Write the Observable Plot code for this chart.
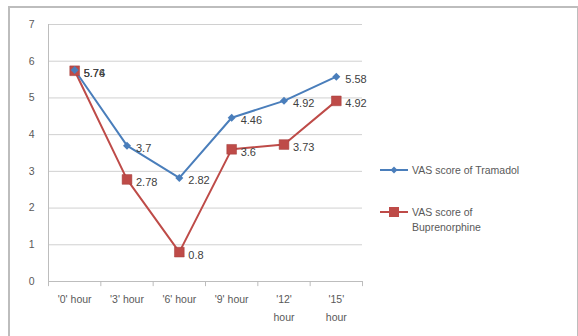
<!DOCTYPE html>
<html><head><meta charset="utf-8">
<script src="https://cdn.jsdelivr.net/npm/d3@7"></script>
<script src="https://cdn.jsdelivr.net/npm/@observablehq/plot@0.6"></script>
<style>
body{margin:0;background:#fff;font-family:"Liberation Sans",Arial,sans-serif;}
#wrap{position:relative;width:578px;height:336px;overflow:hidden;}
#frame{position:absolute;left:8px;top:6px;width:567px;height:340px;border:2px solid #bdbdbd;border-bottom:none;}
#legend{position:absolute;left:380px;top:163px;font-size:10.5px;color:#595959;}
.li{display:flex;align-items:flex-start;margin-bottom:27px;}
.li svg{flex:none;margin-top:-1px;}
.li span{margin-left:4px;line-height:15px;}
</style></head>
<body><div id="wrap"><div id="frame"></div><div id="chart"></div>
<div id="legend"></div></div>
<script>
const categories = ["'0' hour","'3' hour","'6' hour","'9' hour","'12'\nhour","'15'\nhour"];
const tramadol = [5.76, 3.7, 2.82, 4.46, 4.92, 5.58];
const buprenorphine = [5.74, 2.78, 0.8, 3.6, 3.73, 4.92];
const yTicks = [0,1,2,3,4,5,6,7];
const seriesNames = ["VAS score of Tramadol","VAS score of Buprenorphine"];
const colors = ["#4A7EBB","#BE4B48"];

const idx = categories.map((_, i) => i);
const tData = idx.map(i => ({x: i, y: tramadol[i], label: String(tramadol[i])}));
const bData = idx.map(i => ({x: i, y: buprenorphine[i], label: String(buprenorphine[i])}));
const bounds = d3.range(categories.length + 1).map(i => i - 0.5);

const gray = "#595959";
const chart = Plot.plot({
  width: 578, height: 336,
  marginLeft: 48, marginRight: 216, marginTop: 24, marginBottom: 55,
  style: {fontFamily: "Liberation Sans, Arial, sans-serif", fontSize: "10.5px", color: gray, background: "transparent"},
  x: {domain: [-0.5, categories.length - 0.5], axis: null},
  y: {domain: [0, 7], ticks: yTicks, tickSize: 0, tickPadding: 14, tickFormat: d3.format("d"), label: null},
  marks: [
    Plot.ruleY(yTicks.filter(v => v > 0), {stroke: "#d0d0d0", strokeWidth: 1}),
    Plot.ruleX([-0.5], {y1: 0, y2: 7, stroke: "#bdbdbd"}),
    Plot.ruleY([0], {stroke: "#bdbdbd"}),
    Plot.ruleX(bounds, {y1: 0, y2: -0.14, stroke: "#bdbdbd"}),
    Plot.text(idx, {x: d => d, y: 0, text: d => categories[d], dy: 8, lineAnchor: "top", fill: gray, fontSize: 10.5, lineHeight: 1.75}),
    Plot.line(bData, {x: "x", y: "y", stroke: colors[1], strokeWidth: 2}),
    Plot.line(tData, {x: "x", y: "y", stroke: colors[0], strokeWidth: 2}),
    Plot.dot(bData, {x: "x", y: "y", symbol: "square", r: 5.5, fill: colors[1], stroke: "#a33c3a", strokeWidth: 0.5}),
    Plot.dot(tData, {x: "x", y: "y", symbol: "diamond2", r: 3.6, fill: colors[0]}),
    Plot.text(tData, {x: "x", y: "y", text: "label", dx: 9, dy: 3, textAnchor: "start", fill: "#404040", fontSize: 11}),
    Plot.text(bData, {x: "x", y: "y", text: "label", dx: 9, dy: 3, textAnchor: "start", fill: "#404040", fontSize: 11})
  ]
});
document.getElementById("chart").appendChild(chart);

const legend = document.getElementById("legend");
const legendTexts = ["VAS score of Tramadol", "VAS score of<br>Buprenorphine"];
seriesNames.forEach((n, i) => {
  const row = document.createElement("div");
  row.className = "li";
  const marker = i === 0
    ? `<path d="M14,4.5 L17.5,8 L14,11.5 L10.5,8 Z" fill="${colors[0]}"/>`
    : `<rect x="9" y="3" width="10" height="10" fill="${colors[1]}"/>`;
  row.innerHTML = `<svg width="28" height="16"><line x1="0" x2="28" y1="8" y2="8" stroke="${colors[i]}" stroke-width="2"/>${marker}</svg><span>${legendTexts[i]}</span>`;
  legend.appendChild(row);
});
</script></body></html>
